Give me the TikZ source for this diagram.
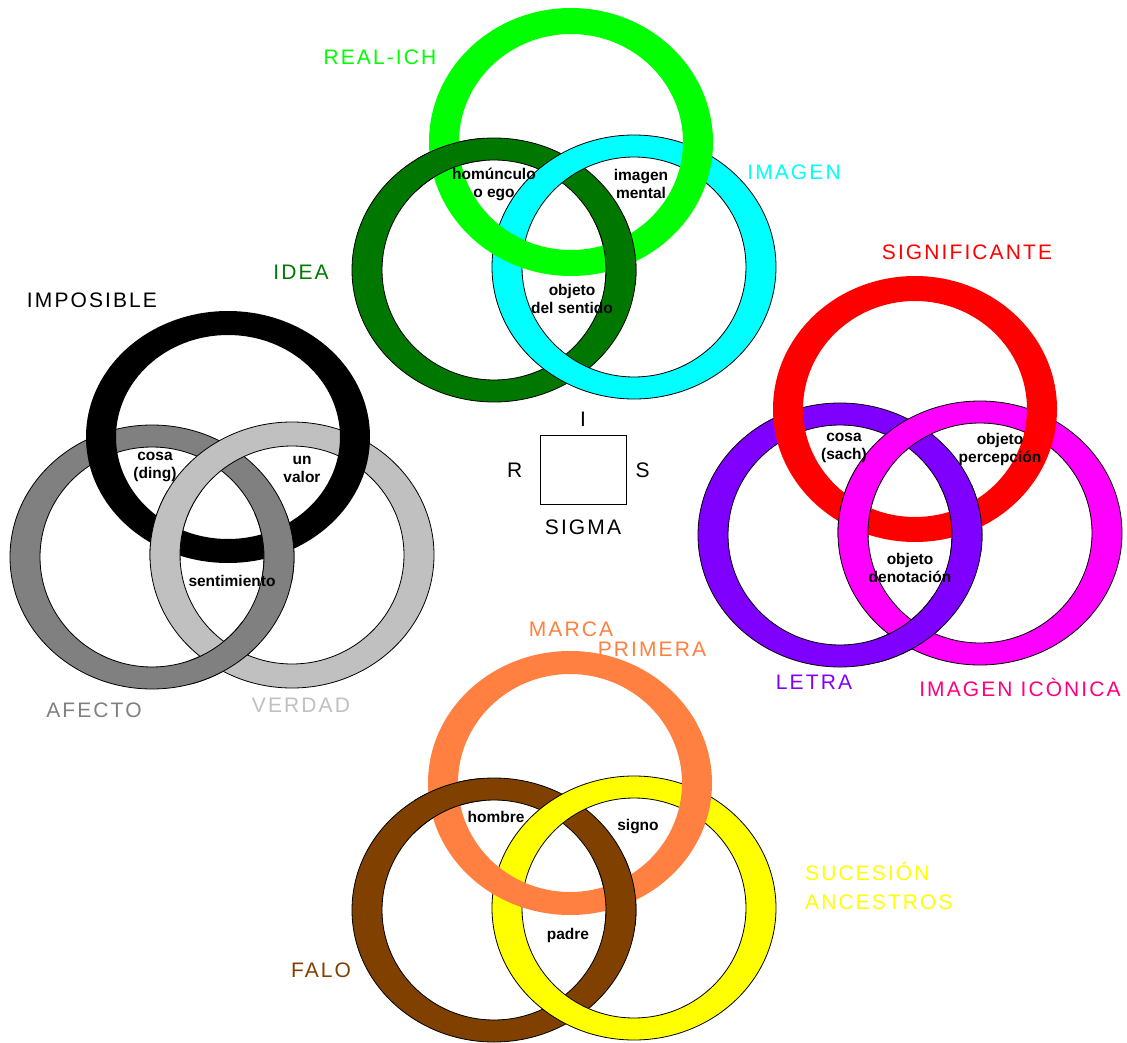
\documentclass[tikz,border=0pt]{standalone}
\usepackage{fontspec}
\setmainfont{Liberation Sans}
\newfontfamily\rotulo[LetterSpace=10]{Liberation Sans}
\usepackage{tikz}
\usetikzlibrary{positioning}

\definecolor{verdeclaro}{HTML}{00FF00}
\definecolor{verdeoscuro}{HTML}{007800}
\definecolor{celeste}{HTML}{00FFFF}
\definecolor{grisoscuro}{HTML}{808080}
\definecolor{grisclaro}{HTML}{C0C0C0}
\definecolor{rojo}{HTML}{FF0000}
\definecolor{violeta}{HTML}{8000FF}
\definecolor{fucsia}{HTML}{FF00FF}
\definecolor{rosa}{HTML}{FF0080}
\definecolor{naranja}{HTML}{FF8040}
\definecolor{marron}{HTML}{804000}
\definecolor{amarillo}{HTML}{FFFF00}

% anillo: centro, relleno, borde, radio y exterior, radio y interior
\newcommand{\anillo}[5]{%
  \path[fill=#2, draw=#3, line width=0.8pt, even odd rule]
    (#1) ellipse [x radius=142pt, y radius=#4pt]
    (#1) ellipse [x radius=112pt, y radius=#5pt];}

\begin{document}
\begin{tikzpicture}[x=1pt, y=-1pt]

  \tikzstyle{titulo}=[font=\rotulo\fontsize{21}{29}\selectfont, inner sep=0pt]
  \tikzstyle{zona}=[font=\bfseries\fontsize{15.5}{18}\selectfont, align=center, inner sep=0pt]

  \fill[white] (0,0) rectangle (1127,1043);
  \useasboundingbox (0,0) rectangle (1127,1043);

  % arriba
  \coordinate (realich) at (571,142);
  \coordinate (idea)    at (494,270);
  \coordinate (imagen)  at (634,267);
  \anillo{idea}{verdeoscuro}{black}{132}{110}
  \anillo{imagen}{celeste}{black}{132}{110}
  \anillo{realich}{verdeclaro}{none}{134}{108}
  \begin{scope}
    \clip (450,158) ++(-34,-34) rectangle ++(68,68);
    \anillo{idea}{verdeoscuro}{black}{132}{110}
  \end{scope}
  \begin{scope}
    \clip (622,250) ++(-34,-34) rectangle ++(68,68);
    \anillo{idea}{verdeoscuro}{black}{132}{110}
  \end{scope}

  % izquierda
  \coordinate (imposible) at (228,437);
  \coordinate (afecto)    at (152,557);
  \coordinate (verdad)    at (292,555);
  \anillo{afecto}{grisoscuro}{black}{132}{110}
  \anillo{verdad}{grisclaro}{black}{133}{109}
  \anillo{imposible}{black}{none}{126}{102}
  \begin{scope}
    \clip (273,547) ++(-34,-34) rectangle ++(68,68);
    \anillo{afecto}{grisoscuro}{black}{132}{110}
  \end{scope}
  \begin{scope}
    \clip (170,525) ++(-34,-34) rectangle ++(68,68);
    \anillo{verdad}{grisclaro}{black}{133}{109}
  \end{scope}
  \begin{scope}
    \clip (225,655) ++(-34,-34) rectangle ++(68,68);
    \anillo{afecto}{grisoscuro}{black}{132}{110}
  \end{scope}

  % derecha
  \coordinate (significante) at (915,409);
  \coordinate (letra)        at (840,535);
  \coordinate (iconica)      at (980,533);
  \anillo{letra}{violeta}{black}{132}{110}
  \anillo{iconica}{fucsia}{black}{132}{110}
  \anillo{significante}{rojo}{none}{133}{108}
  \begin{scope}
    \clip (967,518) ++(-34,-34) rectangle ++(68,68);
    \anillo{letra}{violeta}{black}{132}{110}
  \end{scope}
  \begin{scope}
    \clip (858,502) ++(-34,-34) rectangle ++(68,68);
    \anillo{iconica}{fucsia}{black}{132}{110}
  \end{scope}
  \begin{scope}
    \clip (912,630) ++(-34,-34) rectangle ++(68,68);
    \anillo{letra}{violeta}{black}{132}{110}
  \end{scope}

  % abajo
  \coordinate (marca)    at (570,783);
  \coordinate (falo)     at (494,910);
  \coordinate (sucesion) at (634,908);
  \anillo{falo}{marron}{black}{132}{110}
  \anillo{sucesion}{amarillo}{black}{132}{110}
  \anillo{marca}{naranja}{none}{132}{109}
  \begin{scope}
    \clip (448,800) ++(-34,-34) rectangle ++(68,68);
    \anillo{falo}{marron}{black}{132}{110}
  \end{scope}
  \begin{scope}
    \clip (621,891) ++(-34,-34) rectangle ++(68,68);
    \anillo{falo}{marron}{black}{132}{110}
  \end{scope}

  % nombres de los anillos
  \node[titulo, text=verdeclaro]  (tich)   at (380,57)  {REAL-ICH};
  \node[titulo, text=celeste]     (timg)   at (794,172) {IMAGEN};
  \node[titulo, text=verdeoscuro] (tidea)  at (301,272) {IDEA};
  \node[titulo]                   (timp)   at (92,300)  {IMPOSIBLE};
  \node[titulo, text=grisoscuro]  (tafe)   at (94,710)  {AFECTO};
  \node[titulo, text=grisclaro]   (tver)   at (301,705) {VERDAD};
  \node[titulo, text=rojo]        (tsig)   at (967,252) {SIGNIFICANTE};
  \node[titulo, text=violeta]     (tlet)   at (814,682) {LETRA};
  \node[titulo, text=rosa]        (tico)   at (1020,687) {IMAGEN ICÒNICA};
  \node[titulo, text=naranja]     (tmar)   at (571,629) {MARCA};
  \node[titulo, text=naranja]     (tpri)   at (652,649) {PRIMERA};
  \node[titulo, text=amarillo, align=left, anchor=west] (tsuc) at (805,886) {SUCESIÓN\\ANCESTROS};
  \node[titulo, text=marron]      (tfal)   at (321,970) {FALO};

  % zonas
  \node[zona] (homunculo)  at (494,184) {homúnculo\\o ego};
  \node[zona] (mental)     at (641,184) {imagen\\mental};
  \node[zona] (sentido)    at (572,299) {objeto\\del sentido};
  \node[zona] (ding)       at (155,467) {cosa\\(ding)};
  \node[zona] (valor)      at (302,469) {un\\valor};
  \node[zona] (sentim)     at (232,581) {sentimiento};
  \node[zona] (sach)       at (844,448) {cosa\\(sach)};
  \node[zona] (percepcion) at (1000,449) {objeto\\percepción};
  \node[zona] (denotacion) at (910,568) {objeto\\denotación};
  \node[zona] (hombre)     at (496,817) {hombre};
  \node[zona] (signo)      at (638,827) {signo};
  \node[zona] (padre)      at (568,935) {padre};

  % sigma
  \node[draw, line width=1pt, minimum width=86pt, minimum height=69pt, inner sep=0pt] (sigma) at (583,470) {};
  \node[titulo, above=8pt of sigma] (si) {I};
  \node[titulo, left=17pt of sigma] (sr) {R};
  \node[titulo, right=9pt of sigma] (ss) {S};
  \node[titulo, below=15pt of sigma] (ssigma) {SIGMA};

\end{tikzpicture}
\end{document}
